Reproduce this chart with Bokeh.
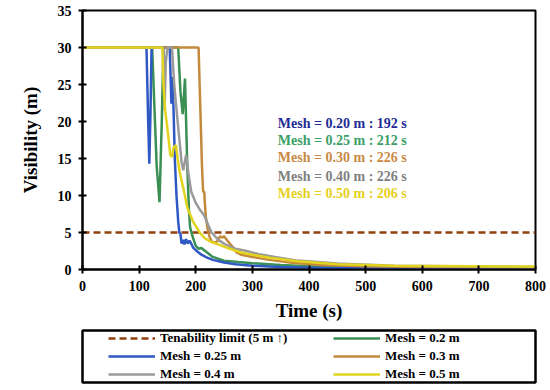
from bokeh.plotting import figure
from bokeh.models import Legend, LegendItem, FixedTicker, Range1d
from bokeh.layouts import column
from bokeh.core.properties import value
from bokeh.embed import file_html
from bokeh.resources import INLINE

# ---- data ----
limit_t = [0, 800]
limit_v = [5, 5]

t_020 = [0, 123, 127, 131, 136, 140, 143, 169, 173, 177, 181, 185, 188, 190, 195, 200, 205, 210, 215, 220, 230, 250, 275, 300, 350, 400, 500, 600, 800]
v_020 = [30, 30, 22, 14, 9.1, 20, 30, 30, 24, 21, 25.8, 14, 8, 5.7, 4.3, 3.2, 2.8, 2.9, 2.6, 2.3, 1.7, 1.2, 1.0, 0.85, 0.6, 0.45, 0.32, 0.3, 0.3]

t_025 = [0, 113, 116, 118, 120, 122, 154, 157, 159, 161, 163, 166, 169, 171, 173, 175, 178, 180, 183, 186, 189, 192, 195, 200, 205, 210, 220, 230, 250, 270, 300, 350, 400, 500, 600, 800]
v_025 = [30, 30, 20, 14.3, 21, 30, 30, 22.4, 26, 21, 15, 10, 6.5, 5.0, 4.8, 3.5, 4.0, 3.4, 4.1, 3.5, 3.9, 3.5, 3.0, 2.6, 2.3, 2.0, 1.6, 1.3, 0.95, 0.7, 0.5, 0.35, 0.25, 0.2, 0.2, 0.2]

t_030 = [0, 205, 208, 211, 213, 215, 216, 218, 221, 224, 228, 232, 238, 243, 247, 250, 255, 260, 266, 272, 280, 300, 330, 370, 420, 500, 600, 800]
v_030 = [30, 30, 22, 14, 10.5, 10.5, 9, 7, 5.5, 4.5, 3.8, 3.6, 3.8, 4.5, 4.3, 4.5, 4.0, 3.5, 3.0, 2.3, 2.0, 1.7, 1.3, 0.9, 0.6, 0.45, 0.35, 0.3]

t_040 = [0, 143, 145, 147, 150, 158, 162, 168, 175, 178, 183, 187, 192, 200, 208, 215, 222, 228, 240, 252, 270, 290, 310, 340, 380, 450, 550, 800]
v_040 = [30, 30, 21.5, 28, 30, 30, 25, 20, 14.5, 13.4, 15.5, 13, 10.5, 9, 8, 7.3, 6.0, 5.0, 4.0, 3.4, 2.8, 2.5, 2.1, 1.7, 1.2, 0.8, 0.5, 0.35]

t_050 = [0, 141, 143, 146, 150, 153, 155, 158, 161, 165, 168, 172, 178, 185, 195, 207, 215, 225, 243, 260, 280, 300, 330, 380, 450, 550, 800]
v_050 = [30, 30, 25, 21.5, 19, 17, 15.5, 15.2, 16.5, 16.8, 15, 13, 11, 8.4, 6.5, 5.0, 4.3, 3.8, 3.3, 2.8, 2.3, 2.0, 1.6, 1.1, 0.7, 0.5, 0.4]

series_labels = ["Mesh = 0.2 m", "Mesh = 0.25 m", "Mesh = 0.3 m", "Mesh = 0.4 m", "Mesh = 0.5 m"]
series_colors = ["#3A8F52", "#2F58C4", "#C48A3C", "#9A9A9A", "#E2D41E"]
limit_label = "Tenability limit (5 m \u2191)"
limit_color = "#93400F"

ann_labels = ["Mesh = 0.20 m : 192 s", "Mesh = 0.25 m : 212 s", "Mesh = 0.30 m : 226 s",
              "Mesh = 0.40 m : 226 s", "Mesh = 0.50 m : 206 s"]
ann_colors = ["#1E2B94", "#3AA066", "#C98A44", "#808080", "#E6D01C"]
ann_x = [345, 345, 345, 345, 345]
ann_y = [19.7, 17.4, 15.1, 12.6, 10.3]

x_ticks = [0, 100, 200, 300, 400, 500, 600, 700, 800]
y_ticks = [0, 5, 10, 15, 20, 25, 30, 35]

FONT = "Liberation Serif"
all_t = [t_020, t_025, t_030, t_040, t_050]
all_v = [v_020, v_025, v_030, v_040, v_050]

p = figure(width=550, height=328, output_backend="svg", toolbar_location=None,
           x_range=Range1d(0, 800), y_range=Range1d(0, 35),
           min_border_left=82, min_border_right=14, min_border_top=10, min_border_bottom=59)
p.background_fill_color = "white"
p.border_fill_color = "white"
p.outline_line_color = "black"
p.outline_line_width = 2
p.xgrid.visible = False
p.ygrid.visible = False

for ax in (p.xaxis[0], p.yaxis[0]):
    ax.axis_line_color = "black"
    ax.axis_line_width = 2
    ax.major_tick_line_color = "black"
    ax.major_tick_line_width = 2
    ax.major_tick_in = 4
    ax.major_tick_out = 4
    ax.minor_tick_line_color = None
    ax.major_label_text_font = FONT
    ax.major_label_text_font_style = "bold"
    ax.major_label_text_font_size = "14px"
    ax.major_label_text_color = "black"
    ax.axis_label_text_font = FONT
    ax.axis_label_text_font_style = "bold"
    ax.axis_label_text_font_size = "19px"
    ax.axis_label_text_color = "black"
    ax.major_label_standoff = 7

p.xaxis[0].ticker = FixedTicker(ticks=x_ticks)
p.yaxis[0].ticker = FixedTicker(ticks=y_ticks)
p.xaxis[0].axis_label = "Time (s)"
p.yaxis[0].axis_label = "Visibility (m)"
p.xaxis[0].axis_label_standoff = 6
p.yaxis[0].axis_label_standoff = 14

p.line(limit_t, limit_v, line_color=limit_color, line_width=2.5, line_dash="7 4")
for t, v, c in zip(all_t, all_v, series_colors):
    p.line(t, v, line_color=c, line_width=2.5)

p.text(x=ann_x, y=ann_y, text=ann_labels, text_color=ann_colors,
       text_font=value(FONT), text_font_style="bold", text_font_size="14px",
       text_baseline="middle", text_align="left")

# ---- legend panel (its frame is the legend box; series lie outside its ranges) ----
q = figure(width=550, height=62, output_backend="svg", toolbar_location=None,
           x_axis_location=None, y_axis_location=None,
           x_range=Range1d(-2, -1), y_range=Range1d(-2, -1),
           min_border_left=81, min_border_right=15, min_border_top=2, min_border_bottom=8)
q.xgrid.visible = False
q.ygrid.visible = False
q.outline_line_color = "black"
q.outline_line_width = 2.5
q.background_fill_color = "white"
q.border_fill_color = "white"

r_lim = q.line(limit_t, limit_v, line_color=limit_color, line_width=2.5, line_dash="7 4")
s_rend = [q.line(t, v, line_color=c, line_width=2.5) for t, v, c in zip(all_t, all_v, series_colors)]

lim_item = LegendItem(label=limit_label, renderers=[r_lim])
s_items = [LegendItem(label=lab, renderers=[r]) for lab, r in zip(series_labels, s_rend)]
# column-major fill: col 1 = limit, 0.25, 0.4 ; col 2 = 0.2, 0.3, 0.5
items = [lim_item, s_items[1], s_items[3], s_items[0], s_items[2], s_items[4]]

legend = Legend(items=items, ncols=2, location=(26, 0),
                label_text_font=FONT, label_text_font_style="bold",
                label_text_font_size="13px", label_text_color="black",
                glyph_width=47, glyph_height=14, label_standoff=5,
                label_width=171, label_height=14, spacing=2, padding=0, margin=0,
                border_line_color=None, background_fill_alpha=0)
q.add_layout(legend, "center")

layout = column(p, q, spacing=0)
open("out.html", "w").write(file_html(layout, INLINE))
